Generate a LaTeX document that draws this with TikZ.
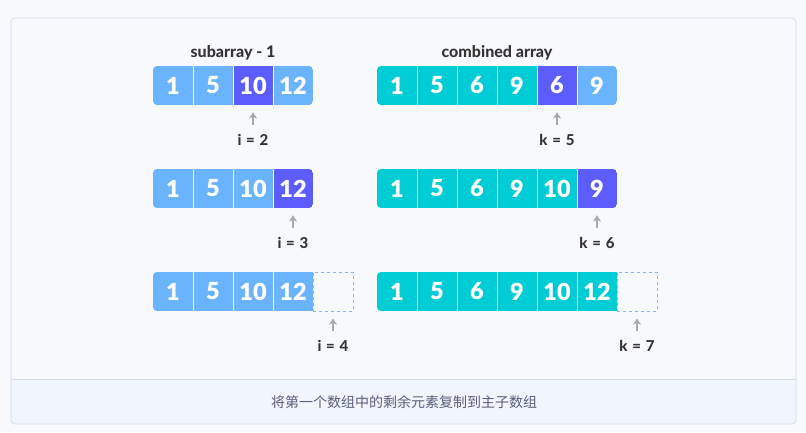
\documentclass[tikz,border=0pt]{standalone}
\usepackage{fontspec}
\setmainfont{Lato}
\newfontfamily\numfont{Lato Black}
\newfontfamily\hvfont{Lato Heavy}
\newfontfamily\cjk{Noto Sans CJK SC}
\usetikzlibrary{arrows.meta}
\definecolor{lb}{HTML}{6AB4FF}
\definecolor{pu}{HTML}{5C5CFF}
\definecolor{tl}{HTML}{00CCD6}
\definecolor{bg}{HTML}{F8F9FC}
\definecolor{capbg}{HTML}{F1F5FD}
\definecolor{frame}{HTML}{D3DCE8}
\definecolor{txt}{HTML}{333333}
\definecolor{arrc}{HTML}{AAAAAA}
\definecolor{dash}{HTML}{7DB8F2}
\definecolor{captxt}{HTML}{595E7E}
\newcommand{\lblsp}{\hspace{1.2pt}}
\begin{document}
\begin{tikzpicture}[x=1pt,y=-1pt,
  cell/.style={minimum width=40pt,minimum height=39pt,inner sep=0pt,text=white,font=\numfont\fontsize{23.5}{23.5}\selectfont},
  emptycell/.style={minimum width=40pt,minimum height=39pt,inner sep=0pt,draw=dash,dashed,line width=0.7pt},
  lbl/.style={inner sep=0pt,text=txt,font=\hvfont\fontsize{15}{15}\selectfont},
  ttl/.style={inner sep=0pt,text=txt,font=\hvfont\fontsize{16}{16}\selectfont},
  arr/.style={draw=arrc,line width=2pt,-{Stealth[length=6.5pt,width=8pt]},shorten <=9pt,shorten >=7pt},
  divider/.style={draw=white,line width=0.8pt}]
\useasboundingbox (0,0) rectangle (806,432);
\fill[bg] (0,0) rectangle (806,432);
\fill[capbg,rounded corners=4pt] (11,379) rectangle (796,424);
\fill[capbg] (11,379) rectangle (796,390);
\draw[frame,line width=0.8pt] (11,379) -- (796,379);
\draw[frame,line width=0.8pt,rounded corners=4pt] (11,18) rectangle (796,424);

% titles
\node[ttl] (t1) at (233,53) {subarray - 1};
\node[ttl] (t2) at (497,53) {combined array};

% ---------- row 1 ----------
\begin{scope}
\clip[rounded corners=4pt] (153,66) rectangle (313,105);
\node[cell,fill=lb] (a11) at (173,85.5) {1};
\node[cell,fill=lb] (a12) at (213,85.5) {5};
\node[cell,fill=pu] (a13) at (253,85.5) {10};
\node[cell,fill=lb] (a14) at (293,85.5) {12};
\end{scope}
\foreach \c in {a11,a12,a13} \draw[divider] (\c.north east) -- (\c.south east);
\begin{scope}
\clip[rounded corners=4pt] (377,66) rectangle (617,105);
\node[cell,fill=tl] (b11) at (397,85.5) {1};
\node[cell,fill=tl] (b12) at (437,85.5) {5};
\node[cell,fill=tl] (b13) at (477,85.5) {6};
\node[cell,fill=tl] (b14) at (517,85.5) {9};
\node[cell,fill=pu] (b15) at (557,85.5) {6};
\node[cell,fill=lb] (b16) at (597,85.5) {9};
\end{scope}
\foreach \c in {b11,b12,b13,b14,b15} \draw[divider] (\c.north east) -- (\c.south east);
\node[lbl] (i2) at (253,140) {i \lblsp{}= \lblsp{}2};
\node[lbl] (k5) at (557,140) {k \lblsp{}= \lblsp{}5};
\draw[arr] (i2.north) -- (a13.south);
\draw[arr] (k5.north) -- (b15.south);

% ---------- row 2 ----------
\begin{scope}
\clip[rounded corners=4pt] (153,169) rectangle (313,208);
\node[cell,fill=lb] (a21) at (173,188.5) {1};
\node[cell,fill=lb] (a22) at (213,188.5) {5};
\node[cell,fill=lb] (a23) at (253,188.5) {10};
\node[cell,fill=pu] (a24) at (293,188.5) {12};
\end{scope}
\foreach \c in {a21,a22,a23} \draw[divider] (\c.north east) -- (\c.south east);
\begin{scope}
\clip[rounded corners=4pt] (377,169) rectangle (617,208);
\node[cell,fill=tl] (b21) at (397,188.5) {1};
\node[cell,fill=tl] (b22) at (437,188.5) {5};
\node[cell,fill=tl] (b23) at (477,188.5) {6};
\node[cell,fill=tl] (b24) at (517,188.5) {9};
\node[cell,fill=tl] (b25) at (557,188.5) {10};
\node[cell,fill=pu] (b26) at (597,188.5) {9};
\end{scope}
\foreach \c in {b21,b22,b23,b24,b25} \draw[divider] (\c.north east) -- (\c.south east);
\node[lbl] (i3) at (293,243) {i \lblsp{}= \lblsp{}3};
\node[lbl] (k6) at (597,243) {k \lblsp{}= \lblsp{}6};
\draw[arr] (i3.north) -- (a24.south);
\draw[arr] (k6.north) -- (b26.south);

% ---------- row 3 ----------
\begin{scope}
\clip[rounded corners=4pt] (153,272) rectangle (353,311);
\node[cell,fill=lb] (a31) at (173,291.5) {1};
\node[cell,fill=lb] (a32) at (213,291.5) {5};
\node[cell,fill=lb] (a33) at (253,291.5) {10};
\node[cell,fill=lb] (a34) at (293,291.5) {12};
\end{scope}
\foreach \c in {a31,a32,a33} \draw[divider] (\c.north east) -- (\c.south east);
\node[emptycell] (a35) at (333,291.5) {};
\begin{scope}
\clip[rounded corners=4pt] (377,272) rectangle (657,311);
\node[cell,fill=tl] (b31) at (397,291.5) {1};
\node[cell,fill=tl] (b32) at (437,291.5) {5};
\node[cell,fill=tl] (b33) at (477,291.5) {6};
\node[cell,fill=tl] (b34) at (517,291.5) {9};
\node[cell,fill=tl] (b35) at (557,291.5) {10};
\node[cell,fill=tl] (b36) at (597,291.5) {12};
\end{scope}
\foreach \c in {b31,b32,b33,b34,b35} \draw[divider] (\c.north east) -- (\c.south east);
\node[emptycell] (b37) at (637,291.5) {};
\node[lbl] (i4) at (333,346) {i \lblsp{}= \lblsp{}4};
\node[lbl] (k7) at (637,346) {k \lblsp{}= \lblsp{}7};
\draw[arr] (i4.north) -- (a35.south);
\draw[arr] (k7.north) -- (b37.south);

% caption
\node[inner sep=0pt,text=captxt,font=\cjk\fontsize{14}{14}\selectfont] (cap) at (404,402) {将第一个数组中的剩余元素复制到主子数组};
\end{tikzpicture}
\end{document}
